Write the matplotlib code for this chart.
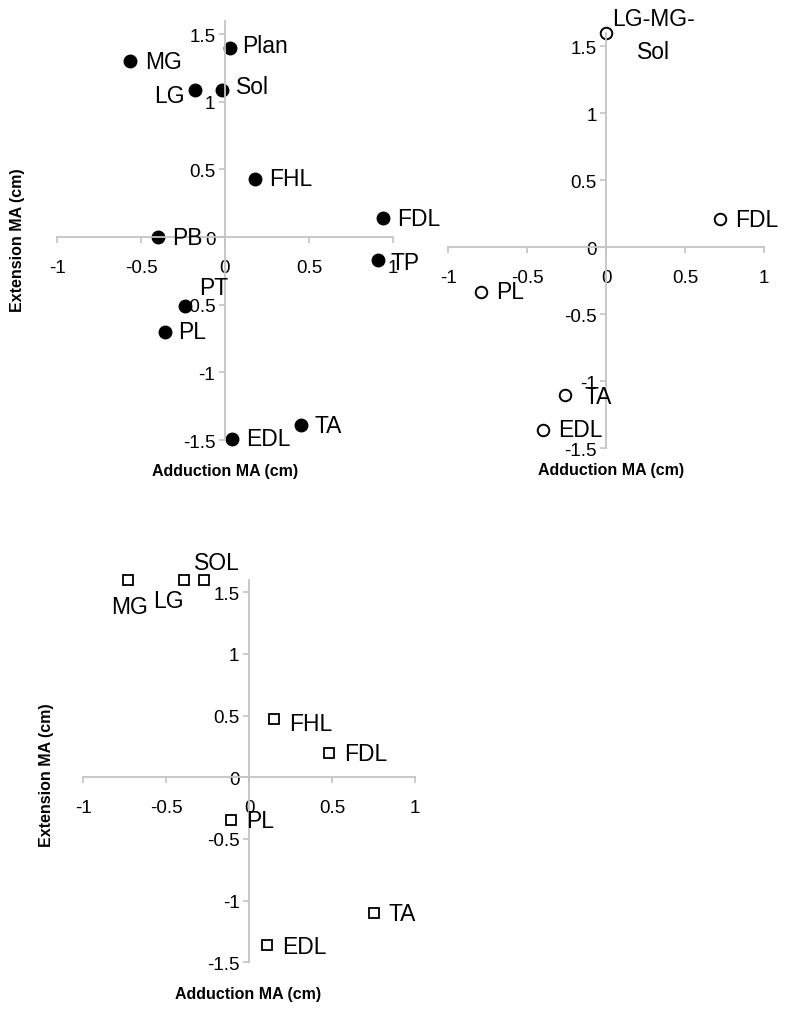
import matplotlib
matplotlib.use('Agg')
import matplotlib.pyplot as plt

plt.rcParams['font.family'] = ['Liberation Sans', 'DejaVu Sans']

# panel 1 - filled circles
p1_names = ['Plan', 'MG', 'LG', 'Sol', 'FHL', 'FDL', 'PB', 'TP', 'PT', 'PL', 'TA', 'EDL']
p1_x = [0.03, -0.565, -0.18, -0.015, 0.18, 0.94, -0.40, 0.91, -0.24, -0.36, 0.45, 0.04]
p1_y = [1.40, 1.30, 1.09, 1.09, 0.43, 0.14, 0.0, -0.17, -0.51, -0.70, -1.39, -1.49]

# panel 2 - open circles
p2_names = ['LG-MG-\nSol', 'FDL', 'PL', 'TA', 'EDL']
p2_x = [0.0, 0.72, -0.79, -0.26, -0.40]
p2_y = [1.60, 0.21, -0.33, -1.10, -1.36]

# panel 3 - open squares
p3_names = ['MG', 'LG', 'SOL', 'FHL', 'FDL', 'PL', 'TA', 'EDL']
p3_x = [-0.73, -0.39, -0.27, 0.15, 0.48, -0.11, 0.75, 0.11]
p3_y = [1.60, 1.60, 1.60, 0.47, 0.20, -0.345, -1.10, -1.36]

xticks = [-1, -0.5, 0, 0.5, 1]
xticklabels = ['-1', '-0.5', '0', '0.5', '1']
yticks = [-1.5, -1, -0.5, 0, 0.5, 1, 1.5]
yticklabels = ['-1.5', '-1', '-0.5', '0', '0.5', '1', '1.5']

W, H = 786, 1012
fig = plt.figure(figsize=(W / 100, H / 100), dpi=100)
GRAY = '#c4c4c4'


def axes_px(left, right, top, bottom):
    return fig.add_axes([left / W, 1 - bottom / H, (right - left) / W, (bottom - top) / H])


def setup(ax):
    ax.set_xlim(-1, 1)
    ax.set_ylim(-1.5, 1.6)
    for s in ['top', 'right']:
        ax.spines[s].set_visible(False)
    for s in ['left', 'bottom']:
        ax.spines[s].set_position(('data', 0))
        ax.spines[s].set_color(GRAY)
        ax.spines[s].set_linewidth(1.3)
    ax.set_xticks(xticks)
    ax.set_xticklabels(xticklabels)
    ax.set_yticks(yticks)
    ax.set_yticklabels(yticklabels)
    ax.tick_params(axis='x', direction='out', length=4, width=1.2, color=GRAY,
                   pad=11.5, labelsize=13.5)
    ax.tick_params(axis='y', direction='out', length=4, width=1.2, color=GRAY,
                   pad=3, labelsize=13.5)
    ax.patch.set_visible(False)


def label_points(ax, names, xs, ys, offsets, default=(14, 0, 'left')):
    for n, x, y in zip(names, xs, ys):
        dx, dy, ha = offsets.get(n, default)
        ax.annotate(n, (x, y), xytext=(dx, dy), textcoords='offset pixels',
                    ha=ha, va='center', fontsize=16.5, linespacing=1.55,
                    annotation_clip=False)


# panel 1
ax1 = axes_px(57, 393, 21.5, 441)
setup(ax1)
ax1.plot(p1_x, p1_y, 'o', color='black', markersize=9, linestyle='none', clip_on=False)
label_points(ax1, p1_names, p1_x, p1_y, {
    'Plan': (12, 2, 'left'), 'MG': (15, 0, 'left'), 'LG': (-10, -6, 'right'),
    'Sol': (14, 3, 'left'), 'PT': (29, 19, 'center'), 'TP': (13, -2, 'left'),
})

# panel 2
ax2 = axes_px(448.3, 764.3, 33.9, 449.3)
setup(ax2)
ax2.plot(p2_x, p2_y, 'o', markerfacecolor='white', markeredgecolor='black',
         markeredgewidth=1.4, markersize=8.3, linestyle='none', clip_on=False)
label_points(ax2, p2_names, p2_x, p2_y, {
    'LG-MG-\nSol': (47, -2, 'center'), 'TA': (19, -2, 'left'),
}, default=(15, 0, 'left'))

# panel 3
ax3 = axes_px(83.3, 415, 581, 963.3)
setup(ax3)
ax3.plot(p3_x, p3_y, 's', markerfacecolor='white', markeredgecolor='black',
         markeredgewidth=1.3, markersize=7.6, linestyle='none', clip_on=False)
label_points(ax3, p3_names, p3_x, p3_y, {
    'MG': (1, -26, 'center'), 'LG': (-16, -21, 'center'), 'SOL': (13, 18, 'center'),
    'FHL': (15, -4, 'left'),
}, default=(15, -1, 'left'))

# axis titles
title_kw = dict(fontsize=11.5, fontweight='bold', ha='center', va='center')
fig.text(225 / W, 1 - 471.5 / H, 'Adduction MA (cm)', **title_kw)
fig.text(611 / W, 1 - 471 / H, 'Adduction MA (cm)', **title_kw)
fig.text(248 / W, 1 - 995 / H, 'Adduction MA (cm)', **title_kw)
fig.text(18 / W, 1 - 240 / H, 'Extension MA (cm)', rotation=90, **title_kw)
fig.text(47 / W, 1 - 775 / H, 'Extension MA (cm)', rotation=90, **title_kw)

fig.savefig('out.png', dpi=100)
